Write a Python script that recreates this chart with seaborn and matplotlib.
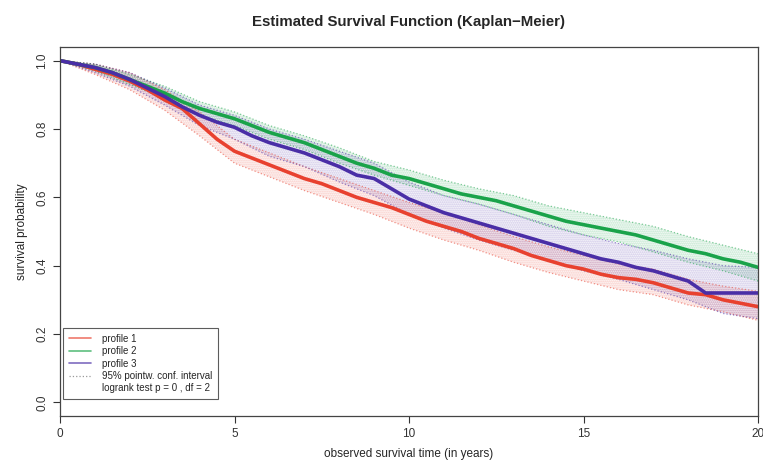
import numpy as np
import pandas as pd
import matplotlib
matplotlib.use("Agg")
import matplotlib.pyplot as plt
import seaborn as sns
from matplotlib.lines import Line2D

# survival estimates, every half year
time = [0, 0.5, 1, 1.5, 2, 2.5, 3, 3.5, 4, 4.5, 5, 5.5, 6, 6.5, 7, 7.5, 8, 8.5, 9, 9.5, 10,
        10.5, 11, 11.5, 12, 12.5, 13, 13.5, 14, 14.5, 15, 15.5, 16, 16.5, 17, 17.5, 18, 18.5, 19, 19.5, 20]
surv_p1 = [1.0, 0.99, 0.975, 0.96, 0.94, 0.915, 0.885, 0.86, 0.815, 0.77, 0.735, 0.715, 0.695, 0.675, 0.655,
           0.64, 0.62, 0.60, 0.585, 0.57, 0.55, 0.53, 0.515, 0.50, 0.48, 0.465, 0.45, 0.43, 0.415, 0.40,
           0.39, 0.375, 0.365, 0.36, 0.35, 0.335, 0.32, 0.315, 0.30, 0.29, 0.28]
surv_p2 = [1.0, 0.99, 0.98, 0.965, 0.945, 0.925, 0.905, 0.88, 0.86, 0.845, 0.83, 0.81, 0.79, 0.775, 0.76,
           0.74, 0.72, 0.70, 0.685, 0.665, 0.655, 0.64, 0.625, 0.61, 0.60, 0.59, 0.575, 0.56, 0.545, 0.53,
           0.52, 0.51, 0.50, 0.49, 0.475, 0.46, 0.445, 0.435, 0.42, 0.41, 0.395]
surv_p3 = [1.0, 0.99, 0.98, 0.965, 0.945, 0.92, 0.895, 0.865, 0.84, 0.82, 0.805, 0.78, 0.76, 0.745, 0.73,
           0.71, 0.69, 0.665, 0.655, 0.625, 0.595, 0.575, 0.555, 0.54, 0.525, 0.51, 0.495, 0.48, 0.465, 0.45,
           0.435, 0.42, 0.41, 0.395, 0.385, 0.37, 0.355, 0.32, 0.32, 0.32, 0.32]

# 95% pointwise confidence bounds, yearly
ci_time = [0, 1, 2, 3, 4, 5, 6, 7, 8, 9, 10, 11, 12, 13, 14, 15, 16, 17, 18, 19, 20]
lo_p1 = [1.0, 0.96, 0.915, 0.855, 0.78, 0.70, 0.66, 0.62, 0.585, 0.55, 0.51, 0.475, 0.445, 0.41, 0.38, 0.355, 0.33, 0.315, 0.285, 0.265, 0.24]
hi_p1 = [1.0, 0.99, 0.965, 0.915, 0.85, 0.77, 0.73, 0.69, 0.655, 0.62, 0.585, 0.555, 0.52, 0.485, 0.455, 0.43, 0.405, 0.39, 0.36, 0.34, 0.325]
lo_p2 = [1.0, 0.97, 0.93, 0.89, 0.84, 0.81, 0.77, 0.74, 0.70, 0.665, 0.635, 0.605, 0.58, 0.55, 0.515, 0.49, 0.47, 0.44, 0.41, 0.385, 0.355]
hi_p2 = [1.0, 0.99, 0.96, 0.925, 0.88, 0.85, 0.81, 0.78, 0.745, 0.705, 0.68, 0.65, 0.625, 0.605, 0.575, 0.555, 0.535, 0.515, 0.485, 0.46, 0.435]
lo_p3 = [1.0, 0.965, 0.925, 0.87, 0.81, 0.77, 0.72, 0.69, 0.645, 0.605, 0.55, 0.51, 0.475, 0.445, 0.415, 0.385, 0.36, 0.33, 0.30, 0.26, 0.245]
hi_p3 = [1.0, 0.99, 0.965, 0.92, 0.87, 0.84, 0.80, 0.77, 0.735, 0.70, 0.645, 0.605, 0.58, 0.55, 0.52, 0.49, 0.465, 0.445, 0.42, 0.40, 0.395]

profiles = ["profile 1", "profile 2", "profile 3"]
colors = {"profile 1": "#e8412f", "profile 2": "#1aa34a", "profile 3": "#4a2ea6"}

sns.set_style("ticks")
plt.rcParams["font.family"] = ["Liberation Sans", "DejaVu Sans"]
plt.rcParams["hatch.linewidth"] = 1.0

fig = plt.figure(figsize=(7.63, 4.62), dpi=100)
ax = fig.add_axes([60 / 763, 1 - 416 / 462, 698 / 763, 369 / 462])

# confidence bands as stippled areas + dotted bounds
bands = [(lo_p1, hi_p1), (lo_p2, hi_p2), (lo_p3, hi_p3)]
for name, (lo, hi) in zip(profiles, bands):
    c = colors[name]
    ax.fill_between(ci_time, lo, hi, facecolor="none",
                    edgecolor=c, hatch="........", linewidth=0, alpha=0.3)
    ax.plot(ci_time, lo, color=c, lw=0.9, ls=":", alpha=0.55)
    ax.plot(ci_time, hi, color=c, lw=0.9, ls=":", alpha=0.55)

df = pd.DataFrame({
    "time": time * 3,
    "surv": surv_p1 + surv_p2 + surv_p3,
    "profile": [p for p in profiles for _ in time],
})
sns.lineplot(data=df, x="time", y="surv", hue="profile", palette=colors,
             estimator=None, lw=2.6, legend=False, ax=ax)

ax.set_xlim(0, 20)
ax.set_ylim(-0.04, 1.04)
ax.set_xticks([0, 5, 10, 15, 20])
ax.set_yticks([0.0, 0.2, 0.4, 0.6, 0.8, 1.0])
ax.set_yticklabels(["0.0", "0.2", "0.4", "0.6", "0.8", "1.0"], rotation=90, va="center")
ax.tick_params(labelsize=8.5, length=5, width=0.8, colors="#333333")
ax.set_xlabel("observed survival time (in years)", fontsize=8.5, labelpad=6)
ax.set_ylabel("survival probability", fontsize=8.5, labelpad=6)
for s in ax.spines.values():
    s.set_color("#444444")
    s.set_linewidth(0.9)

handles = [Line2D([], [], color=colors[p], lw=1.2, alpha=0.7) for p in profiles]
handles.append(Line2D([], [], color="#999999", lw=0.9, ls=":"))
handles.append(Line2D([], [], color="none"))
labels = profiles + ["95% pointw. conf. interval", "logrank test p = 0 , df = 2"]
leg = ax.legend(handles, labels, loc="lower left", bbox_to_anchor=(0.002, 0.04),
                fontsize=7, frameon=True, fancybox=False, handlelength=2.2,
                labelspacing=0.25, borderpad=0.6, handletextpad=1.2, borderaxespad=0.2)
leg.get_frame().set_edgecolor("#333333")
leg.get_frame().set_linewidth(0.8)

fig.text(409 / 763, 1 - 22 / 462, "Estimated Survival Function (Kaplan\u2212Meier)",
         ha="center", va="center", fontsize=10.8, fontweight="bold")

fig.savefig("out.png", dpi=100)
